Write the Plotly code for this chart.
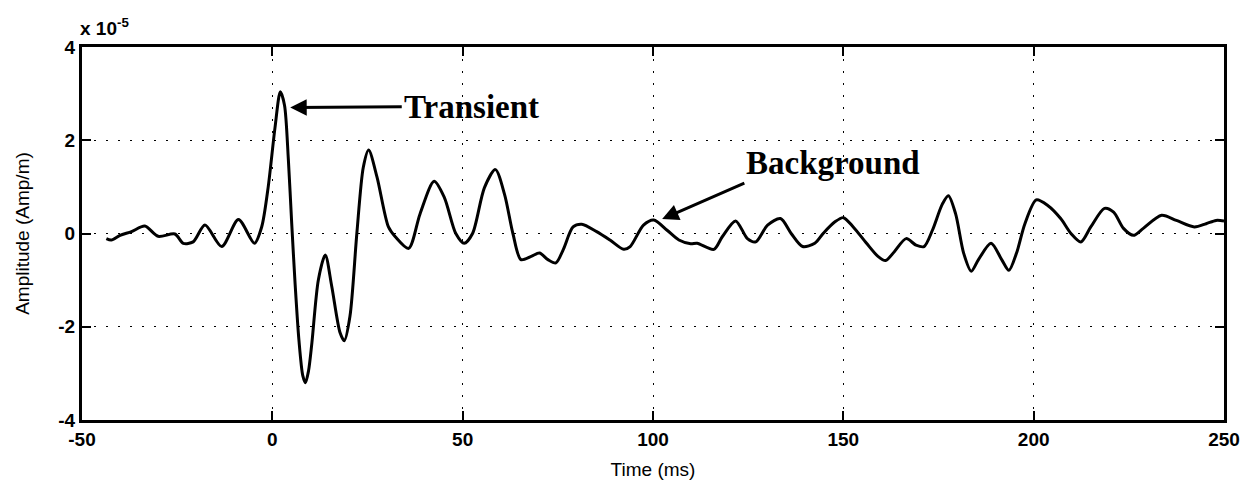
import plotly.graph_objects as go

# Time (ms) and amplitude (units of 1e-5 Amp/m)
time_ms = [-43.6, -42.3, -40, -37, -33.5, -30, -25.6, -23.4, -20.8, -17.7, -13.3, -8.9, -4.7, -2.8, -1.1,
           0.7, 2.1, 3.2, 4.2, 5.1, 6.0, 7.0, 8.0, 8.7, 9.5, 10.4, 12.1, 13.9, 15.6, 17.8, 18.9, 20.4, 22.2, 23.9, 25.3,
           27.5, 30.5, 32.3, 35.8, 38.8, 42.5, 45.2, 48.2, 50.4, 52.6, 55.7, 58.6, 61, 63.2, 65.3,
           68, 70.2, 72.4, 74.5, 76.4, 79, 81.3, 85.2, 88.7, 92.3, 94, 97.5, 100.2, 103.7, 106.8,
           109.9, 111.6, 116, 118.2, 121.7, 124.8, 127, 130.1, 133.5, 136.3, 139.3, 142.5, 144.8,
           147.8, 150, 152.6, 156.1, 159.1, 161.1, 163.4, 166.5, 169.1, 171.2, 173.4, 176, 177.6,
           179.5, 181.6, 183.6, 185.5, 188.8, 191.6, 193.5, 195.5, 197.7, 200.7, 203.7, 207.1,
           209.8, 212.4, 215, 218.6, 221, 223.6, 226.2, 228.8, 233.6, 237.5, 242.2, 245.3, 247.9, 250]
amplitude = [-0.11, -0.14, -0.04, 0.04, 0.16, -0.06, -0.01, -0.21, -0.18, 0.18, -0.28, 0.30, -0.21, 0.14, 0.99,
             2.27, 3.04, 2.75, 1.6, 0.2, -1.1, -2.3, -3.05, -3.2, -2.95, -2.34, -0.99, -0.46, -1.13, -2.13, -2.30, -1.77,
             0.0, 1.42, 1.79,
             1.21, 0.14, -0.07, -0.32, 0.42, 1.12, 0.77, 0.0, -0.21, 0.0, 0.98, 1.37, 0.84, 0.0, -0.56,
             -0.49, -0.42, -0.56, -0.63, -0.35, 0.14, 0.20, 0.04, -0.14, -0.34, -0.28, 0.18, 0.29, 0.07, -0.14,
             -0.22, -0.21, -0.34, -0.07, 0.27, -0.11, -0.18, 0.18, 0.32, 0.0, -0.28, -0.21, 0.01,
             0.25, 0.34, 0.14, -0.21, -0.49, -0.58, -0.39, -0.11, -0.25, -0.28, 0.07, 0.63, 0.81,
             0.42, -0.42, -0.81, -0.56, -0.21, -0.56, -0.79, -0.42, 0.21, 0.72, 0.60, 0.32,
             0.0, -0.18, 0.14, 0.54, 0.46, 0.11, -0.04, 0.11, 0.39, 0.28, 0.14, 0.21, 0.28, 0.27]

x_ticks = [-50, 0, 50, 100, 150, 200, 250]
y_ticks = [-4, -2, 0, 2, 4]

fig = go.Figure()
fig.add_trace(go.Scatter(x=time_ms, y=amplitude, mode="lines",
                         line=dict(color="black", width=3, shape="spline", smoothing=0.8),
                         showlegend=False, hoverinfo="skip"))

tickfont = dict(family="Liberation Sans, Arial", size=19, color="black", weight="bold")
axis_common = dict(showline=True, linewidth=3, linecolor="black", mirror="allticks",
                   ticks="inside", ticklen=9, tickwidth=2, tickcolor="black",
                   showgrid=True, gridcolor="black", gridwidth=1.3, griddash="2px,10px",
                   zeroline=False, tickfont=tickfont)

fig.update_xaxes(range=[-50, 250], tickvals=x_ticks, ticktext=[str(v) for v in x_ticks],
                 title=dict(text="Time (ms)", font=dict(family="Liberation Sans, Arial", size=19, color="black"),
                            standoff=14),
                 **axis_common)
fig.update_yaxes(range=[-4, 4], tickvals=y_ticks, ticktext=[str(v) for v in y_ticks],
                 title=dict(text="Amplitude (Amp/m)", font=dict(family="Liberation Sans, Arial", size=19, color="black"),
                            standoff=24),
                 **axis_common)

fig.add_annotation(x=0, y=1, xref="paper", yref="paper", xanchor="left", yanchor="bottom",
                   text="x 10<sup>-5</sup>", showarrow=False, xshift=-4, yshift=6,
                   font=dict(family="Liberation Sans, Arial", size=19, color="black", weight="bold"))

serif = dict(family="Liberation Serif, Times New Roman", size=33, color="black")
# Transient: text at the arrow tail, arrow head at the peak
fig.add_annotation(x=4.7, y=2.70, ax=34.0, ay=2.72, xref="x", yref="y", axref="x", ayref="y",
                   xanchor="left", yanchor="middle", text="<b>Transient</b>", font=serif,
                   showarrow=True, arrowhead=2, arrowsize=1.1, arrowwidth=3, arrowcolor="black")
# Background
fig.add_annotation(x=102.4, y=0.31, ax=124.0, ay=1.08, xref="x", yref="y", axref="x", ayref="y",
                   xanchor="left", yanchor="bottom", text="<b>Background</b>", font=serif,
                   showarrow=True, arrowhead=2, arrowsize=1.1, arrowwidth=3, arrowcolor="black")

fig.update_layout(width=1253, height=489, margin=dict(l=82, r=29, t=47, b=69),
                  paper_bgcolor="white", plot_bgcolor="white")

fig.write_html("out.html")
